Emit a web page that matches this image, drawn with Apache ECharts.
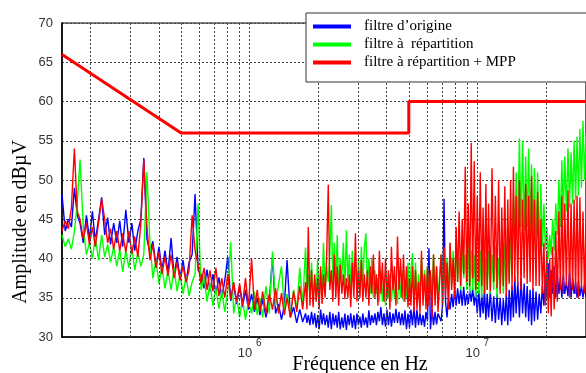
<!DOCTYPE html>
<html>
<head>
<meta charset="utf-8">
<script src="https://cdn.jsdelivr.net/npm/echarts@6/dist/echarts.min.js"></script>
<style>html,body{margin:0;padding:0;background:#fff}#c{width:586px;height:373px}</style>
</head>
<body>
<div id="c"></div>
<script>
// Sweep frequencies (kHz)
const freqKHz = [150,155,160,165,170,175,180,186,192,198,204,210,217,224,231,238,245,253,261,269,
277,286,295,304,313,323,333,343,354,365,376,388,400,412,425,438,452,466,480,495,
510,526,542,559,576,594,612,631,650,670,690,711,733,755,778,802,826,851,877,904,
931,959,988,1020,1050,1080,1110,1140,1180,1220,1260,1300,1340,1380,1420,1460,1510,1560,1610,1660,
1710,
1760,1785,1810,1840,1870,1900,1930,1960,1990,2020,
2050,2080,2110,2145,2180,2215,2250,2285,2320,2355,
2390,2425,2460,2500,2540,2580,2620,2660,2700,2740,
2780,2825,2870,2915,2960,3005,3050,3095,3140,3190,
3240,3290,3340,3390,3440,3495,3550,3605,3660,3715,
3770,3830,3890,3950,4010,4070,4130,4195,4260,4325,
4390,4460,4530,4600,4670,4740,4810,4885,4960,5035,
5110,5190,5270,5350,5430,5515,5600,5685,5770,5860,
5950,6040,6130,6225,6320,6420,6520,6620,6720,
6930,7030,7140,7250,7360,7470,7590,7710,7830,7950,
8070,8190,8320,8450,8580,8710,8850,8980,9120,9260,
9400,9540,9690,9840,9990,10150,10300,10450,10600,10750,
10900,11050,11200,11400,11600,11800,12000,12200,12400,12600,
12800,13000,13200,13400,13600,13800,14000,14200,14400,14600,
14800,15050,15300,15550,15800,16050,16300,16550,16800,17050,
17300,17550,17800,18100,18400,18700,19000,19300,19600,19900,
20200,20500,20800,21100,21400,21750,22100,22450,22800,23150,
23500,23850,24200,24600,25000,25400,25800,26200,26600,27000,
27400,27800,28200,28650,29100,29550,30000];

const blueOrig = [48.2,43.5,45.0,44.0,49.0,45.5,44.5,42.0,45.5,42.5,
46.0,42.2,45.0,47.8,43.0,45.2,41.8,44.5,42.0,44.8,
41.5,46.2,42.0,44.5,41.0,43.5,45.0,52.8,42.5,40.8,
42.2,39.0,41.5,38.5,41.0,38.2,42.6,37.8,40.2,37.5,
39.8,37.0,39.5,40.5,48.2,38.5,38.0,36.2,38.6,35.8,
38.0,35.5,37.6,35.0,37.2,40.2,34.6,36.8,34.2,36.5,
33.8,36.0,33.5,35.5,33.2,35.0,32.8,34.8,32.5,34.5,
40.2,33.0,34.2,32.2,34.0,39.8,32.5,33.8,31.8,33.5,
31.9,
33.0,31.8,32.8,31.5,33.2,31.6,33.0,31.2,32.8,31.0,
33.5,31.6,33.0,31.5,32.8,31.2,33.2,31.0,33.0,31.5,
32.8,31.2,33.2,31.0,32.5,31.2,33.0,30.9,32.8,31.5,
33.0,31.2,32.8,31.0,33.0,31.5,32.6,31.2,33.0,31.5,
32.5,31.2,33.4,31.5,32.8,31.8,33.0,31.5,33.2,32.0,
33.8,31.5,33.0,31.3,33.5,31.5,33.2,31.3,33.0,31.8,
33.6,31.8,33.2,31.5,33.0,31.5,33.4,31.0,33.0,31.2,
33.5,31.5,33.8,31.2,33.5,31.5,33.0,31.5,32.8,31.3,
33.2,32.0,41.3,31.0,33.6,31.5,33.2,31.6,33.0,
32.0,34.0,47.6,34.5,32.5,35.0,33.5,35.5,33.8,36.0,
34.0,36.2,34.2,36.0,34.0,36.4,34.0,35.5,34.2,36.0,
34.5,36.2,34.0,35.8,33.0,36.0,32.5,35.5,33.0,36.0,
32.2,35.5,32.5,35.8,32.0,35.2,31.8,35.5,32.2,35.0,
31.5,34.8,32.0,35.5,31.5,36.0,32.0,36.5,32.5,37.7,
33.0,37.0,32.5,37.5,33.0,36.8,32.5,36.5,32.0,36.0,
31.5,36.2,32.0,35.8,32.2,35.5,33.0,36.5,34.0,38.0,
35.0,39.4,35.0,38.5,35.5,39.0,35.0,38.0,35.5,37.5,
35.0,38.0,35.5,37.0,35.2,38.2,35.0,37.5,35.5,37.0,
35.0,37.2,35.2,36.5,35.0,36.8,35.0];

const greenRep = [43.0,41.5,42.5,41.2,43.5,47.0,52.6,44.0,40.5,42.0,
40.0,42.8,39.8,43.0,40.2,41.8,39.5,41.5,39.0,41.2,
38.3,41.0,38.8,41.5,38.5,40.8,39.0,40.5,51.0,42.0,
37.5,39.8,36.8,39.0,36.2,38.5,36.0,38.8,35.8,38.0,
35.5,37.8,35.2,37.0,38.0,47.0,36.0,37.8,34.5,36.8,
34.0,36.2,33.6,35.8,33.2,36.0,42.1,33.0,35.2,32.5,
34.8,32.2,34.5,33.0,35.8,32.8,35.0,32.5,36.5,33.0,
40.9,34.0,36.8,39.0,33.5,35.5,33.0,36.0,33.5,38.8,
34.0,
41.4,35.5,38.0,35.0,39.5,34.5,37.5,35.2,40.0,34.8,
38.5,35.5,42.0,36.0,39.0,37.0,40.5,46.8,36.5,42.0,
37.0,43.0,36.0,40.0,37.5,42.0,36.0,43.6,37.0,40.5,
36.2,41.0,37.0,39.5,35.5,40.0,36.0,41.5,36.5,41.5,
43.2,36.5,40.0,35.5,40.0,35.0,38.5,35.5,37.5,34.5,
38.5,34.5,37.5,34.0,37.0,35.0,38.0,34.5,37.0,35.0,
36.5,34.2,38.0,35.0,38.5,34.5,37.5,35.0,39.5,34.5,
38.5,40.7,35.0,39.5,34.8,38.0,35.5,40.0,35.5,38.5,
36.0,39.0,34.0,38.0,35.0,40.5,35.5,39.0,35.0,
40.5,35.5,41.0,36.0,40.0,35.0,42.0,36.5,41.0,35.5,
42.4,37.0,40.0,36.0,41.5,37.5,40.5,36.0,42.0,35.5,
41.0,36.0,40.5,35.0,40.0,35.5,41.0,35.0,40.5,35.5,
40.0,36.0,41.0,35.5,40.5,36.0,41.5,35.0,40.0,36.0,
41.0,35.5,42.0,36.0,41.5,37.0,43.0,38.0,48.0,42.0,
51.0,43.0,55.3,44.0,55.0,43.5,53.0,44.0,54.0,43.0,
52.0,42.5,51.5,42.0,51.0,41.0,49.5,41.5,47.0,41.0,
44.0,40.0,43.0,40.5,45.0,41.0,47.0,43.0,50.0,44.0,
52.5,45.0,53.0,46.0,54.0,46.5,53.5,47.0,55.0,47.5,
55.5,48.0,56.5,49.0,57.5,50.0,56.0];

const redMpp = [43.5,44.8,43.8,46.5,54.0,46.0,45.0,42.5,44.5,41.8,
44.0,41.5,44.5,47.6,45.0,42.0,43.8,41.2,43.5,41.0,
43.2,40.8,43.5,40.6,42.8,40.2,44.5,52.6,44.0,39.8,
41.8,38.8,40.8,38.0,40.2,37.8,40.5,37.5,39.5,37.2,
39.0,37.0,38.5,45.5,41.0,39.2,36.8,38.8,36.0,38.5,
35.8,38.8,35.2,37.5,35.0,38.0,34.8,37.0,34.5,36.8,
34.0,37.5,33.8,40.0,33.5,36.0,33.2,35.8,33.0,35.5,
33.5,36.2,33.0,35.6,32.8,35.0,32.5,35.8,33.2,36.5,
33.5,
37.0,33.5,44.0,34.0,38.5,33.8,38.0,34.5,37.5,33.5,
39.0,34.2,38.0,35.0,40.5,49.4,36.0,38.5,34.5,40.5,
35.0,39.0,34.0,39.2,35.5,38.0,34.8,37.5,35.0,38.0,
33.8,39.5,35.0,43.2,34.5,38.5,35.0,39.8,34.5,38.0,
35.0,38.5,34.0,39.0,35.5,40.5,35.0,38.0,34.0,41.0,
35.5,39.5,34.5,40.0,35.0,38.5,33.5,41.5,36.0,39.0,
34.0,42.8,36.0,40.0,35.0,40.5,34.5,39.0,33.8,37.5,
34.0,39.0,33.2,38.5,33.5,37.0,33.0,41.0,34.0,38.0,
33.5,39.0,34.0,38.5,32.5,40.5,34.0,39.0,33.2,
40.5,34.0,41.5,35.0,39.5,33.5,42.0,36.0,40.0,35.0,
44.0,37.0,46.0,36.5,45.0,38.0,51.7,37.0,47.0,36.5,
54.7,37.5,52.4,36.0,48.0,37.0,51.0,36.5,46.5,35.5,
49.5,36.0,47.0,35.8,51.5,37.0,48.0,36.2,50.0,35.5,
46.5,36.5,49.2,35.2,47.5,36.8,50.0,36.0,51.7,37.0,
48.0,36.5,50.0,36.0,47.5,37.5,49.5,36.8,48.0,37.0,
50.5,36.0,47.5,36.5,48.5,36.5,45.0,35.5,42.0,34.0,
41.0,33.0,40.0,32.6,41.5,33.5,43.5,34.5,46.0,36.0,
48.0,35.5,47.0,36.5,48.7,35.0,47.0,36.0,47.5,35.5,
48.0,35.0,47.8,36.2,46.0,35.5,45.0];

// CISPR-type limit (kHz, dBµV)
const limitKHz = [150,500,5000,5000,30000];
const limitVal = [66,56,56,60,60];

// Log grid line positions (kHz)
const gridKHz = [200,300,400,500,600,700,800,900,1000,2000,3000,4000,5000,6000,7000,8000,9000,10000,20000];

const seriesNames = ["filtre d\u2019origine","filtre \u00e0  r\u00e9partition","filtre \u00e0 r\u00e9partition + MPP"];

const toPairs = (vals) => freqKHz.map((f, i) => [f * 1000, vals[i]]);

const chart = echarts.init(document.getElementById('c'), null, {renderer:'canvas'});
const gridLine = {color:'#444', width:1, type:[2,2]};

chart.setOption({
  animation:false,
  backgroundColor:'#fff',
  grid:{left:62, top:23, right:-2, bottom:36, show:true, borderColor:'#000', borderWidth:1.2},
  xAxis:{
    type:'log', logBase:10, min:150000, max:30000000,
    axisLine:{show:true, lineStyle:{color:'#000', width:1.5}},
    axisTick:{show:false},
    splitLine:{show:false},
    axisLabel:{
      margin:1,
      showMinLabel:false, showMaxLabel:false,
      formatter:function(v){
        const e = Math.round(Math.log10(v));
        if (Math.abs(v - Math.pow(10, e)) < 1e-6 * v) return '{b|10 }{s|' + e + '}';
        return '';
      },
      rich:{
        b:{fontFamily:'Liberation Sans', fontSize:13, color:'#333'},
        s:{fontFamily:'Liberation Sans', fontSize:10, color:'#333', padding:[0,0,20,0]}
      }
    }
  },
  yAxis:{
    type:'value', min:30, max:70, interval:5,
    axisLine:{show:true, lineStyle:{color:'#000', width:1.5}},
    axisTick:{show:false},
    splitLine:{show:true, lineStyle:gridLine},
    axisLabel:{margin:9, fontFamily:'Liberation Sans', fontSize:13, color:'#333'}
  },
  legend:{
    data:seriesNames, z:20,
    orient:'vertical', left:306, top:13,
    padding:[6, 80, 12, 7],
    itemGap:3,
    itemWidth:38, itemHeight:4, icon:'rect',
    backgroundColor:'#fff', borderColor:'#333', borderWidth:1,
    textStyle:{fontFamily:'Liberation Serif', fontSize:15, color:'#000', padding:[0,0,0,8]}
  },
  graphic:[
    {type:'text', x:21, y:222, rotation:Math.PI/2,
     style:{text:'Amplitude en dB\u00b5V', font:'20px "Liberation Serif"', fill:'#000', align:'center', verticalAlign:'middle'}},
    {type:'text', x:360, y:365,
     style:{text:'Fr\u00e9quence en Hz', font:'20px "Liberation Serif"', fill:'#000', align:'center', verticalAlign:'middle'}}
  ],
  series:[
    {name:'grid', type:'line', data:[], z:1, silent:true,
     markLine:{silent:true, symbol:'none', label:{show:false}, lineStyle:gridLine, animation:false,
       data:gridKHz.map(f => ({xAxis:f * 1000}))}},
    {name:seriesNames[0], type:'line', data:toPairs(blueOrig), showSymbol:false, color:'#0000ff',
     lineStyle:{width:1.4, color:'#0000ff'}, z:2},
    {name:seriesNames[1], type:'line', data:toPairs(greenRep), showSymbol:false, color:'#00ff00',
     lineStyle:{width:1.4, color:'#00ff00'}, z:3},
    {name:seriesNames[2], type:'line', data:toPairs(redMpp), showSymbol:false, color:'#ff0000',
     lineStyle:{width:1.4, color:'#ff0000'}, z:4},
    {name:'limit', type:'line', data:limitKHz.map((f, i) => [f * 1000, limitVal[i]]), showSymbol:false,
     lineStyle:{width:3, color:'#ff0000'}, z:5}
  ]
});
</script>
</body>
</html>
